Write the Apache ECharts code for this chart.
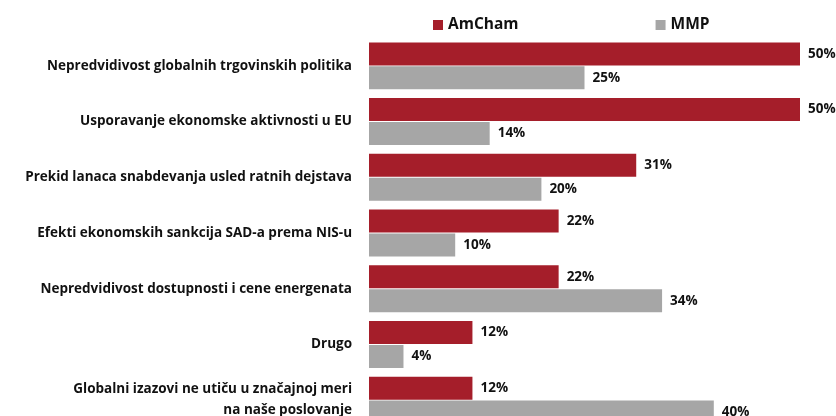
<!DOCTYPE html>
<html>
<head>
<meta charset="utf-8">
<script src="https://cdn.jsdelivr.net/npm/echarts@6/dist/echarts.min.js"></script>
<style>
  html, body { margin: 0; padding: 0; background: #fff; overflow: hidden; }
  /* the last bar is cut off by the window in the original, so the chart runs a bit past it */
  #chart { width: 836px; height: 428px; }
</style>
</head>
<body>
<div id="chart"></div>
<script>
// kategorije (odozgo nadole)
const categories = [
  "Nepredvidivost globalnih trgovinskih politika",
  "Usporavanje ekonomske aktivnosti u EU",
  "Prekid lanaca snabdevanja usled ratnih dejstava",
  "Efekti ekonomskih sankcija SAD-a prema NIS-u",
  "Nepredvidivost dostupnosti i cene energenata",
  "Drugo",
  "Globalni izazovi ne utiču u značajnoj meri\nna naše poslovanje",
];
const amcham = [50, 50, 31, 22, 22, 12, 12];
const mmp = [25, 14, 20, 10, 34, 4, 40];
const seriesNames = ["AmCham", "MMP"];

const font = "'Open Sans', sans-serif";
const chart = echarts.init(document.getElementById("chart"));

const labelStyle = {
  show: true,
  position: "right",
  distance: 8,
  formatter: "{c}%",
  color: "#111",
  fontFamily: font,
  fontWeight: "bold",
  fontSize: 13.5,
};

chart.setOption({
  animation: false,
  legend: {
    top: 12,
    left: 428,
    itemWidth: 10,
    itemHeight: 10,
    itemGap: 137,
    icon: "rect",
    data: seriesNames,
    textStyle: { color: "#111", fontFamily: font, fontWeight: "bold", fontSize: 15.5 },
  },
  grid: {
    left: 369,
    right: 36,
    top: 38,
    bottom: 0,
    containLabel: false,
  },
  xAxis: {
    type: "value",
    min: 0,
    max: 50,
    show: false,
  },
  yAxis: {
    type: "category",
    inverse: true,
    data: categories,
    axisLine: { show: false },
    axisTick: { show: false },
    axisLabel: {
      margin: 17,
      color: "#111",
      fontFamily: font,
      fontWeight: "bold",
      fontSize: 13.5,
      lineHeight: 21,
      align: "right",
    },
  },
  series: [
    {
      name: seriesNames[0],
      type: "bar",
      data: amcham,
      barWidth: 23,
      barGap: "4%",
      itemStyle: { color: "#A51E2A" },
      label: labelStyle,
    },
    {
      name: seriesNames[1],
      type: "bar",
      data: mmp,
      barWidth: 23,
      itemStyle: { color: "#A6A6A6" },
      label: labelStyle,
    },
  ],
});
</script>
</body>
</html>
